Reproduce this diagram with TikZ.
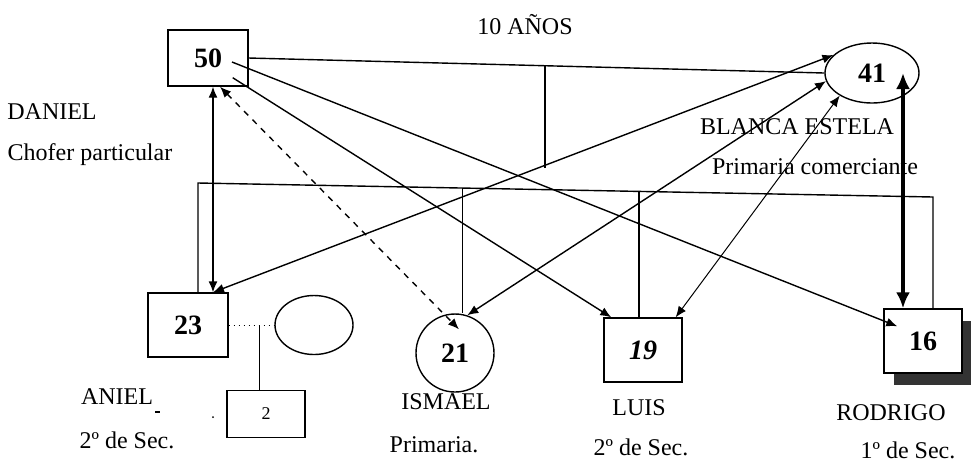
\documentclass[tikz,border=0pt]{standalone}
\usepackage{fontspec}
\setmainfont{Liberation Serif}
\usetikzlibrary{arrows.meta,shapes.geometric,shadows,calc}

\begin{document}
\begin{tikzpicture}[x=0.5pt,y=-0.5pt,
   font=\fontsize{12pt}{14pt}\selectfont,
   line width=0.7pt,
   >={Latex[length=5.5pt,width=4.5pt]},
   person/.style={draw,fill=white,inner sep=0pt,font=\fontsize{14pt}{16pt}\selectfont\bfseries},
   male/.style={person,rectangle,minimum width=39pt,minimum height=32pt},
   female/.style={person,ellipse},
   bond/.style={{Latex[length=8pt,width=7pt]}-{Latex[length=8pt,width=7pt]},line width=1.6pt}]
   \useasboundingbox (0,0) rectangle (971,463);
   \node[male,minimum width=40pt,minimum height=28pt] (n50) at (208,58) {50};
   \node[female,minimum width=47pt,minimum height=30pt] (n41) at (872,73) {41};
   \node[male,minimum width=40pt] (n23) at (188,325) {23};
   \node[female,circle,minimum size=39pt] (n21) at (455,353) {21};
   \node[male] (n19) at (643,350) {\itshape 19};
   \node[male,general shadow={fill=black!80,shadow xshift=5pt,shadow yshift=-6pt}] (n16) at (923,341) {16};
   \node[female,minimum width=39pt,minimum height=29.5pt] (sp23) at (314,325) {};
   \node[male,minimum height=23.5pt,font=\fontsize{9pt}{11pt}\selectfont] (n2) at (266,414) {2};
   \draw (n50.east) -- (n41.west);
   \coordinate (mtop) at ($(n50.east)!0.515!(n41.west)$);
   \draw (mtop) -- ++(0,102);
   \coordinate (sl) at (198,183);
   \coordinate (sr) at (933,197);
   \coordinate (d21) at ($(sl)!0.36!(sr)$);
   \coordinate (d19) at ($(sl)!0.6!(sr)$);
   \draw (sl |- n23.north) -- (sl) -- (sr) -- (sr |- n16.north);
   \draw (d21) -- (d21 |- n21.north);
   \draw (d19) -- (d19 |- n19.north);
   \coordinate (t23) at ([xshift=12.5pt]n23.north);
   \coordinate (t16) at ([xshift=-10pt]n16.north);
   \draw[<->] (n50.south -| t23) -- (t23);
   \draw[<->] (t23) -- (n41.155);
   \draw[<->] (n21.72) -- (n41.190);
   \draw[<->,line width=0.5pt] ([xshift=-3.5pt]n19.north east) -- (n41.215);
   \draw[<->,dashed] ([xshift=6pt]n50.south) -- ([shift={(2pt,-8pt)}]n21.north);
   \draw[->] ([shift={(-8pt,4.5pt)}]n50.south east) -- ([xshift=4pt]n19.north west);
   \draw[->] ([shift={(12pt,-2pt)}]n50.center) -- ([shift={(7pt,-9pt)}]n16.north west);
   \draw[bond] (t16 |- n41.center) -- (t16);
   \coordinate (c23) at ($(n23.east)!0.68!(sp23.west)$);
   \draw[dotted,line width=0.5pt] (n23.east) -- (sp23.west);
   \draw[line width=0.5pt] (c23) -- (c23 |- n2.north);
   \fill (155,411) rectangle (160,413);
   \fill (213,417) circle (1);
   \node (lAnos) at (525,25) {10 AÑOS};
   \node (lDaniel) at (52,112) {DANIEL};
   \node (lChofer) at (90,155) {Chofer particular};
   \node (lBlanca) at (797,127) {BLANCA ESTELA};
   \node (lComer) at (815,167) {Primaria comerciante};
   \node (lAniel) at (117,397) {ANIEL};
   \node (lAnielSec) at (127,440) {2º de Sec.};
   \node (lIsmael) at (446,402) {ISMAEL};
   \node (lPrim) at (434,445) {Primaria.};
   \node (lLuis) at (639,408) {LUIS};
   \node (lLuisSec) at (641,447) {2º de Sec.};
   \node (lRodrigo) at (891,413) {RODRIGO};
   \node (lRodSec) at (908,450) {1º de Sec.};
\end{tikzpicture}
\end{document}
